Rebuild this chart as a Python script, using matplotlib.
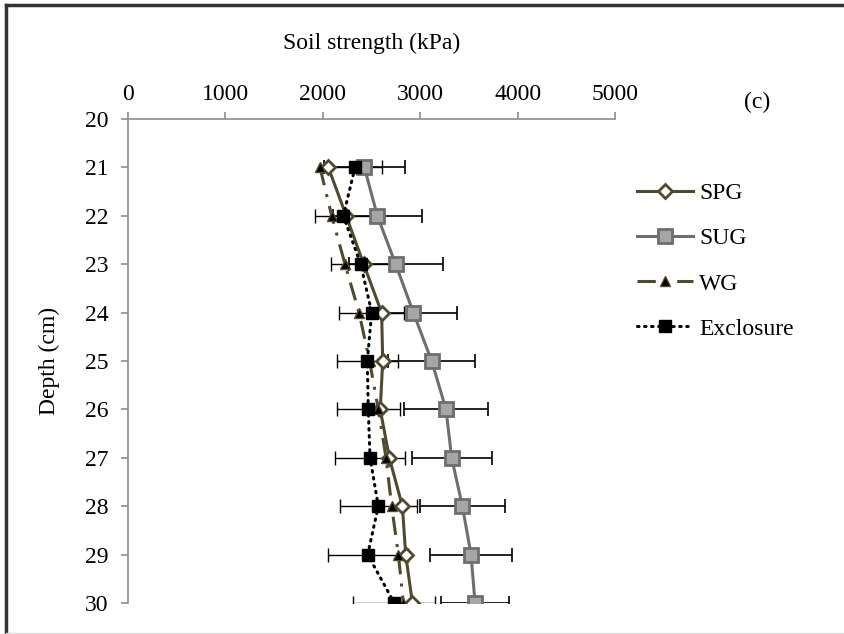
import numpy as np
import matplotlib.pyplot as plt
from matplotlib.lines import Line2D

# soil strength (kPa) by depth (cm)
depth = [21, 22, 23, 24, 25, 26, 27, 28, 29, 30]
spg = [2057, 2240, 2420, 2604, 2615, 2590, 2683, 2817, 2851, 2920]
sug = [2427, 2560, 2748, 2930, 3118, 3265, 3323, 3433, 3522, 3563]
sug_err = [417, 455, 483, 444, 445, 428, 411, 438, 424, 345]
wg = [1971, 2091, 2228, 2372, 2480, 2570, 2649, 2707, 2776, 2827]
excl = [2331, 2211, 2389, 2502, 2457, 2467, 2485, 2570, 2461, 2734]
excl_err = [273, 291, 308, 332, 315, 325, 360, 393, 411, 421]

xticks = [0, 1000, 2000, 3000, 4000, 5000]
yticks = list(range(20, 31))

plt.rcParams['font.family'] = ['Liberation Serif', 'DejaVu Serif']
plt.rcParams['font.size'] = 17

W, H = 845, 634
fig = plt.figure(figsize=(W / 100, H / 100), dpi=100)
ax = fig.add_axes([128 / W, 1 - 603 / H, (615 - 128) / W, (603 - 119) / H])

olive = '#4f4a2f'
gray = '#6e6e6e'

# error bars (SUG and Exclosure only)
ax.errorbar(sug, depth, xerr=sug_err, fmt='none', ecolor='black',
            elinewidth=1.2, capsize=5, capthick=1.2, zorder=1)
ax.errorbar(excl, depth, xerr=excl_err, fmt='none', ecolor='black',
            elinewidth=1.0, capsize=5, capthick=1.0, zorder=1)

ax.plot(spg, depth, color=olive, lw=2.2, marker='D', ms=7,
        mfc='white', mec=olive, mew=2, label='SPG', zorder=3)
ax.plot(sug, depth, color=gray, lw=2.2, marker='s', ms=10,
        mfc='#a6a6a6', mec=gray, mew=2, label='SUG', zorder=3)
ax.plot(wg, depth, color=olive, lw=2.2, ls=(0, (6, 3, 1, 3)), marker='^', ms=7,
        mfc='black', mec=olive, mew=1, label='WG', zorder=4)
ax.plot(excl, depth, color='black', lw=2.2, ls=(0, (0.5, 1.8)),
        dash_capstyle='round', marker='s', ms=9, mfc='black', mec='black',
        label='Exclosure', zorder=5)

ax.set_xlim(0, 5000)
ax.set_ylim(30, 20)
ax.set_xticks(xticks)
ax.set_yticks(yticks)
ax.xaxis.tick_top()
ax.xaxis.set_label_position('top')
ax.set_xlabel('Soil strength (kPa)', labelpad=25)
ax.set_ylabel('Depth (cm)', labelpad=18)

for s in ['right', 'bottom']:
    ax.spines[s].set_visible(False)
for s in ['left', 'top']:
    ax.spines[s].set_color('#8c8c8c')
    ax.spines[s].set_linewidth(1.2)
ax.tick_params(axis='both', direction='out', length=5, width=1.2,
               color='#8c8c8c', labelcolor='black')
ax.tick_params(axis='x', pad=5)
ax.tick_params(axis='y', pad=9)

fig.text(757 / W, 1 - 102 / H, '(c)', ha='center', va='center', fontsize=17)

ax.legend(loc='upper left', bbox_to_anchor=(625 / W, 1 - 171 / H),
          bbox_transform=fig.transFigure, frameon=False, borderpad=0,
          handlelength=2.4, handletextpad=0.25, labelspacing=1.0)

# chart area border
fig.add_artist(Line2D([6 / W, 6 / W], [0, 1 - 5 / H], color='#333333', lw=2.5))
fig.add_artist(Line2D([6 / W, 1], [1 - 5 / H, 1 - 5 / H], color='#333333', lw=2.5))
fig.add_artist(Line2D([6 / W, 1], [1 / H, 1 / H], color='#dddddd', lw=1))

fig.savefig('out.png', dpi=100)
